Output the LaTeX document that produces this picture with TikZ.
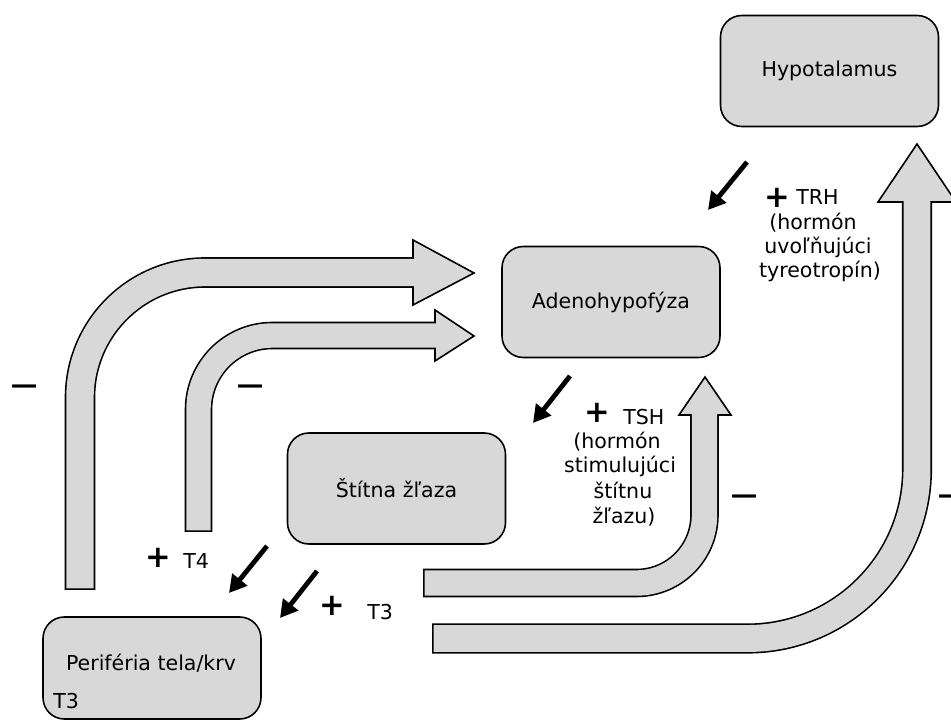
\documentclass[tikz,border=0pt]{standalone}
\usepackage{fontspec}
\setmainfont{DejaVu Sans}
\usetikzlibrary{arrows.meta}
\definecolor{boxgray}{RGB}{216,216,216}
\begin{document}
\begin{tikzpicture}[x=0.75pt,y=-0.75pt,
  box/.style={draw=black, line width=1.2pt, fill=boxgray, rounded corners=16pt,
    minimum width=163.5pt, minimum height=83.25pt, inner sep=0pt,
    font=\fontsize{15.4}{18.4}\selectfont},
  lbl/.style={inner sep=0pt, font=\fontsize{15.4}{18.4}\selectfont},
  plus/.style={inner sep=0pt, font=\fontsize{23}{23}\selectfont\bfseries},
  minus/.style={inner sep=0pt, font=\fontsize{28.7}{28.7}\selectfont},
  push/.style={line width=3.6pt, -{Triangle[length=13pt,width=14pt]}},
  shaftA/.style={line width=#1+1.2pt, draw=black},
  shaftB/.style={line width=#1-1.2pt, draw=boxgray, shorten <=1.2pt},
  head/.style={draw=black, fill=boxgray, line width=1.2pt, line join=miter}
]
\useasboundingbox (0,0) rectangle (951,720);
\clip (0,0) rectangle (951,720);

% boxes
\node[box] (hypo) at (829.5,71) {Hypotalamus};
\node[box] (adeno) at (611,302) {Adenohypofýza};
\node[box] (stit) at (396.5,488.5) {Štítna žľaza};
\node[box, minimum height=76.5pt] (peri) at (152,668) {};
\node[lbl, anchor=base] (perit) at (151,671) {Periféria tela/krv};
\node[lbl, anchor=base west] (perit3) at (53,708) {T3};

% arrow A (outer left)
\coordinate (a0) at (80,590); \coordinate (a1) at (80,272.5); \coordinate (a2) at (413,272.5); \coordinate (a3) at (416,272.5);
\draw[shaftA=21.75pt, rounded corners=93.75pt] (a0) -- (a1) -- (a2);
\draw[head] (413,240) -- (474,273) -- (413,305) -- cycle;
\draw[shaftB=21.75pt, rounded corners=93.75pt] (a0) -- (a1) -- (a3);

% arrow B (inner left)
\coordinate (b0) at (198.5,532); \coordinate (b1) at (198.5,335.5); \coordinate (b2) at (435,335.5); \coordinate (b3) at (438,335.5);
\draw[shaftA=19.5pt, rounded corners=55.5pt] (b0) -- (b1) -- (b2);
\draw[head] (435,310) -- (474,336) -- (435,361) -- cycle;
\draw[shaftB=19.5pt, rounded corners=55.5pt] (b0) -- (b1) -- (b3);

% arrow C (T3 -> adenohypofyza)
\coordinate (c0) at (423,583); \coordinate (c1) at (704.5,583); \coordinate (c2) at (704.5,415); \coordinate (c3) at (704.5,412);
\draw[shaftA=20.25pt, rounded corners=51pt] (c0) -- (c1) -- (c2);
\draw[head] (679,415) -- (705,377) -- (731,415) -- cycle;
\draw[shaftB=20.25pt, rounded corners=51pt] (c0) -- (c1) -- (c3);

% arrow D (big right)
\coordinate (d0) at (432,638.5); \coordinate (d1) at (917,638.5); \coordinate (d2) at (917,202); \coordinate (d3) at (917,199);
\draw[shaftA=21.4pt, rounded corners=127pt] (d0) -- (d1) -- (d2);
\draw[head] (878,202) -- (917,144) -- (956,202) -- cycle;
\draw[shaftB=21.4pt, rounded corners=127pt] (d0) -- (d1) -- (d3);

% small black arrows
\coordinate (t4s) at (267,546); \coordinate (t4e) at (229,593);
\coordinate (t3s) at (317,571); \coordinate (t3e) at (280,618);
\coordinate (tshs) at (570,376); \coordinate (tshe) at (533,423);
\coordinate (trhs) at (747,162); \coordinate (trhe) at (708,210);
\draw[push] (t4s) -- (t4e);
\draw[push] (t3s) -- (t3e);
\draw[push] (tshs) -- (tshe);
\draw[push] (trhs) -- (trhe);

% plus signs and labels
\node[plus] (p1) at (158,558) {+};
\node[lbl, anchor=base west] (lt4) at (183,569) {T4};
\node[plus] (p2) at (332,606) {+};
\node[lbl, anchor=base west] (lt3) at (367,619) {T3};
\node[plus] (p3) at (597,413) {+};
\node[lbl, anchor=base west] (ltsh) at (623,425) {TSH};
\node[lbl, anchor=base] (tsh1) at (617,449) {(hormón};
\node[lbl, anchor=base] (tsh2) at (620,473) {stimulujúci};
\node[lbl, anchor=base] (tsh3) at (623,499) {štítnu};
\node[lbl, anchor=base] (tsh4) at (624,524) {žľazu)};
\node[plus] (p4) at (777,198) {+};
\node[lbl, anchor=base west] (ltrh) at (796,205) {TRH};
\node[lbl, anchor=base] (trh1) at (813,230) {(hormón};
\node[lbl, anchor=base] (trh2) at (818,254) {uvoľňujúci};
\node[lbl, anchor=base] (trh3) at (820,278) {tyreotropín)};

% minus signs
\node[minus] (m1) at (25,392) {−};
\node[minus] (m2) at (251,392) {−};
\node[minus] (m3) at (745,502) {−};
\node[minus] (m4) at (952,502) {−};
\end{tikzpicture}
\end{document}
